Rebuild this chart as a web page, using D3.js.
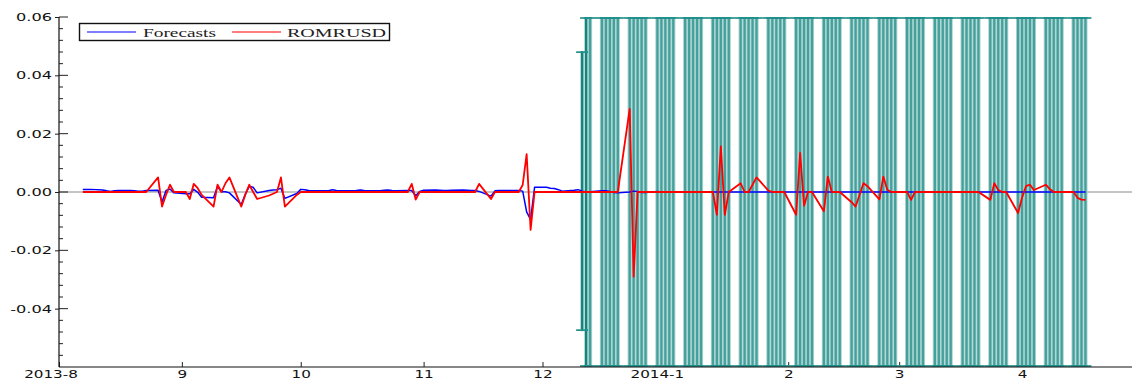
<!DOCTYPE html>
<html><head><meta charset="utf-8">
<script src="https://cdn.jsdelivr.net/npm/d3@7/dist/d3.min.js"></script>
<style>html,body{margin:0;padding:0;background:#fff;overflow:hidden}svg{display:block}</style>
</head><body>
<svg id="chart" width="1132" height="380"></svg>
<script>
// ---------- DATA ----------
const dates = [
"2013-08-07","2013-08-08","2013-08-09","2013-08-12","2013-08-13","2013-08-14","2013-08-15","2013-08-16","2013-08-19","2013-08-20","2013-08-21","2013-08-22","2013-08-23","2013-08-26","2013-08-27","2013-08-28","2013-08-29","2013-08-30",
"2013-09-02","2013-09-03","2013-09-04","2013-09-05","2013-09-06","2013-09-09","2013-09-10","2013-09-11","2013-09-12","2013-09-13","2013-09-16","2013-09-17","2013-09-18","2013-09-19","2013-09-20","2013-09-23","2013-09-24","2013-09-25","2013-09-26","2013-09-27","2013-09-30",
"2013-10-01","2013-10-02","2013-10-03","2013-10-04","2013-10-07","2013-10-08","2013-10-09","2013-10-10","2013-10-11","2013-10-14","2013-10-15","2013-10-16","2013-10-17","2013-10-18","2013-10-21","2013-10-22","2013-10-23","2013-10-24","2013-10-25","2013-10-28","2013-10-29","2013-10-30","2013-10-31",
"2013-11-01","2013-11-04","2013-11-05","2013-11-06","2013-11-07","2013-11-08","2013-11-11","2013-11-12","2013-11-13","2013-11-14","2013-11-15","2013-11-18","2013-11-19","2013-11-20","2013-11-21","2013-11-22","2013-11-25","2013-11-26","2013-11-27","2013-11-28","2013-11-29",
"2013-12-02","2013-12-03","2013-12-04","2013-12-05","2013-12-06","2013-12-09","2013-12-10","2013-12-11","2013-12-12","2013-12-13","2013-12-16","2013-12-17","2013-12-18","2013-12-19","2013-12-20","2013-12-23","2013-12-24","2013-12-25","2013-12-26","2013-12-27","2013-12-30","2013-12-31",
"2014-01-01","2014-01-02","2014-01-03","2014-01-06","2014-01-07","2014-01-08","2014-01-09","2014-01-10","2014-01-13","2014-01-14","2014-01-15","2014-01-16","2014-01-17","2014-01-20","2014-01-21","2014-01-22","2014-01-23","2014-01-24","2014-01-27","2014-01-28","2014-01-29","2014-01-30","2014-01-31",
"2014-02-03","2014-02-04","2014-02-05","2014-02-06","2014-02-07","2014-02-10","2014-02-11","2014-02-12","2014-02-13","2014-02-14","2014-02-17","2014-02-18","2014-02-19","2014-02-20","2014-02-21","2014-02-24","2014-02-25","2014-02-26","2014-02-27","2014-02-28",
"2014-03-03","2014-03-04","2014-03-05","2014-03-06","2014-03-07","2014-03-10","2014-03-11","2014-03-12","2014-03-13","2014-03-14","2014-03-17","2014-03-18","2014-03-19","2014-03-20","2014-03-21","2014-03-24","2014-03-25","2014-03-26","2014-03-27","2014-03-28","2014-03-31",
"2014-04-01","2014-04-02","2014-04-03","2014-04-04","2014-04-07","2014-04-08","2014-04-09","2014-04-10","2014-04-11","2014-04-14","2014-04-15","2014-04-16","2014-04-17"
];

// actual series (red)
const romrusd = [
0,0,0, 0,0,0,0,0, 0,0,0,0,0, 0.005,-0.005,-0.001,0.0025,0,
0,-0.0024,0.0028,0.0013,-0.001, -0.005,0.0025,0,0.003,0.005, -0.005,-0.001,0.0025,0,-0.0024, -0.0012,-0.0006,0,0.005,-0.005, -0.001,
0,0,0,0, 0,0,0,0,0, 0,0,0,0,0, 0,0,0,0,0, 0,0.0028,-0.0026,0,
0, 0,0,0,0,0, 0,0,0,0,0.0028, -0.0024,0,0,0,0, 0,0.0024,0.013,-0.013,0,
0,0,0,0,0, 0,0,0,0,0, 0,0,0,0,0, 0.0285,-0.029,0,0,0, 0,0,
0,0,0, 0,0,0,0,0, 0,-0.0078,0.0156,-0.0078,0, 0.003,0,0,0.0025,0.005, 0.0005,0,0,0,0,
-0.0078,0.0134,-0.0047,0,0, -0.0066,0.0053,0,0,0, -0.0035,-0.005,-0.001,0.003,0.002, -0.0025,0.0053,0.0008,0,0,
0,-0.0027,0,0,0, 0,0,0,0,0, 0,0,0,0,0, -0.0027,0.003,0.0007,0,0, -0.0072,
-0.002,0.002,0.0025,0.0007, 0.0025,0.001,0,0,0, 0,-0.002,-0.0026,-0.0027
];

// forecasts (blue)
const forecasts = [
0.0009,0.0009,0.0009, 0.0007,0.0004,0.0002,0.0004,0.0005, 0.0005,0.0004,0.0003,0.0003,0.0005, 0.0006,-0.0034,0.0005,0.001,-0.0003,
-0.0006,-0.0006,0.0009,-0.0001,-0.0018, -0.002,0.0019,0.0001,0.0001,-0.0003, -0.0043,-0.0008,0.0019,0.0016,-0.0003, 0.0005,0.0007,0.0008,0.0013,-0.0022, -0.0005,
0.0009,0.0008,0.0005,0.0004, 0.0004,0.0004,0.0008,0.0005,0.0004, 0.0004,0.0005,0.0007,0.0005,0.0004, 0.0004,0.0006,0.0007,0.0005,0.0004, 0.0005,0.0005,-0.0013,0.0002,
0.0006, 0.0007,0.0006,0.0005,0.0005,0.0006, 0.0007,0.0006,0.0005,0.0005,0.0002, -0.0014,0.0004,0.0005,0.0005,0.0005, 0.0005,0.0003,-0.0068,-0.0095,0.0016,
0.0016,0.0013,0.0012,0.0008,0.0003, 0.0006,0.0008,0.0003,0.0001,0.0001, 0.0004,0.0004,0.0002,-0.0002,-0.0003, 0,0.0003,0.0002,-0.0002,-0.0002, 0.0002,0,
0,0,0, 0,0,0,0,0, 0,0,0,0,0, 0,0,0,0,0, 0,0,0,0,0,
0,0,0,0,0, 0,0,0,0,0, 0,0,0,0,0, 0,0,0,0,0,
0,0,0,0,0, 0,0,0,0,0, 0,0,0,0,0, 0,0,0,0,0, 0,
0,0,0,0, 0,0,0,0,0, 0,0,0,0
];

// +/- 2 S.E. half-width of forecast band, from bandStart onwards
const bandStart = "2013-12-11";
const se2 = [
0.048,0.066,0.079, 0.090,0.099,0.108,0.116,0.123, 0.130,0.137,0.143,0.149,0.154, 0.160,0.165,
0.170,0.175,0.179, 0.184,0.188,0.192,0.197,0.201, 0.205,0.208,0.212,0.216,0.220, 0.223,0.227,0.230,0.233,0.237, 0.240,0.243,0.246,0.249,0.252,
0.255,0.258,0.261,0.264,0.267, 0.270,0.273,0.275,0.278,0.281, 0.283,0.286,0.289,0.291,0.294, 0.296,0.299,0.301,0.304,0.306,
0.308,0.311,0.313,0.315,0.318, 0.320,0.322,0.325,0.327,0.329, 0.331,0.333,0.336,0.338,0.340, 0.342,0.344,0.346,0.348,0.350, 0.352,
0.354,0.356,0.358,0.360, 0.362,0.364,0.366,0.368,0.370, 0.372,0.374,0.376,0.378
];

const yTicks = [0.06, 0.04, 0.02, 0.00, -0.02, -0.04];
const yTickLabels = ["0.06", "0.04", "0.02", "0.00", "-0.02", "-0.04"];
const xTickDates = ["2013-08-01","2013-09-01","2013-10-01","2013-11-01","2013-12-01","2014-01-01","2014-02-01","2014-03-01","2014-04-01"];
const xTickLabels = ["2013-8","9","10","11","12","2014-1","2","3","4"];
const seriesNames = ["Forecasts", "ROMRUSD"];

// ---------- CHART ----------
const parse = d3.utcParse("%Y-%m-%d");
const svg = d3.select("#chart");
const X0 = 59, X1 = 1132, YT = 17, YB = 367;

const x = d3.scaleUtc().domain([parse("2013-08-01"), parse("2014-04-29")]).range([X0, 1133]);
const y = d3.scaleLinear().domain([-0.06, 0.06]).range([YB, YT]);
const yc = y.copy().clamp(true);

const rows = dates.map((d, i) => ({ date: parse(d), act: romrusd[i], fc: forecasts[i] }));
const i0 = dates.indexOf(bandStart);
const band = se2.slice(0, rows.length - i0).map((s, k) => {
  const r = rows[i0 + k];
  return { date: r.date, hi: r.fc + s, lo: r.fc - s, k: k };
});

function stretch(sel, f) {
  sel.each(function () {
    const w = this.getComputedTextLength();
    d3.select(this).attr("textLength", w * f).attr("lengthAdjust", "spacingAndGlyphs");
  });
}

// zero line
svg.append("line").attr("x1", X0).attr("x2", X1).attr("y1", y(0)).attr("y2", y(0))
  .attr("stroke", "#8a8a8a").attr("stroke-width", 1);

// x axis (ticks under the band)
const xAxis = d3.axisBottom(x)
  .tickValues(xTickDates.map(parse))
  .tickFormat((d, i) => xTickLabels[i])
  .tickSizeInner(-5).tickSizeOuter(0).tickPadding(3.5);
const gx = svg.append("g").attr("transform", `translate(0,${YB})`).call(xAxis);
gx.select(".domain").remove();
gx.selectAll(".tick line").attr("stroke", "#222");
gx.selectAll(".tick text")
  .attr("font-family", "'DejaVu Sans', Verdana, sans-serif").attr("font-size", 11).attr("fill", "#111")
  .attr("x", (d, i) => xTickLabels[i].includes("-") ? -8.5 : 0)
  .call(stretch, 1.38);

// band: light fill, dark stripe, caps
const gb = svg.append("g");
gb.selectAll("rect.light").data(band.filter(d => d.k > 1)).join("rect")
  .attr("class", "light")
  .attr("x", d => x(d.date) - 2.1).attr("width", 4.2)
  .attr("y", d => yc(d.hi)).attr("height", d => yc(d.lo) - yc(d.hi))
  .attr("fill", "#abd5d2");
gb.selectAll("rect.dark").data(band).join("rect")
  .attr("class", "dark")
  .attr("x", d => x(d.date) - (d.k < 2 ? 1.4 : 1.15)).attr("width", d => d.k < 2 ? 2.8 : 2.3)
  .attr("y", d => yc(d.hi)).attr("height", d => yc(d.lo) - yc(d.hi))
  .attr("fill", d => d.k < 2 ? "#15847f" : "#45a09c");
["hi", "lo"].forEach(key => {
  gb.selectAll("line.cap" + key).data(band).join("line")
    .attr("class", "cap" + key)
    .attr("x1", d => x(d.date) - 6).attr("x2", d => x(d.date) + 6)
    .attr("y1", d => yc(d[key]) + (key === "hi" ? 1 : -1)).attr("y2", d => yc(d[key]) + (key === "hi" ? 1 : -1))
    .attr("stroke", "#23908b").attr("stroke-width", 1.7);
});

// lines
const lineF = d3.line().x(d => x(d.date)).y(d => y(d.fc));
const lineA = d3.line().x(d => x(d.date)).y(d => y(d.act));
svg.append("path").datum(rows).attr("d", lineF)
  .attr("fill", "none").attr("stroke", "#0000ff").attr("stroke-width", 1.5).attr("stroke-linejoin", "round");
svg.append("path").datum(rows).attr("d", lineA)
  .attr("fill", "none").attr("stroke", "#ff0000").attr("stroke-width", 1.8).attr("stroke-linejoin", "round");

// y axis
const yAxis = d3.axisLeft(y).tickValues(yTicks).tickFormat((d, i) => yTickLabels[i])
  .tickSizeInner(4).tickSizeOuter(0).tickPadding(3);
const gy = svg.append("g").attr("transform", `translate(${X0},0)`).call(yAxis);
gy.select(".domain").remove();
gy.selectAll(".tick line").attr("stroke", "#222");
gy.selectAll(".tick text")
  .attr("font-family", "'DejaVu Sans', Verdana, sans-serif").attr("font-size", 11).attr("fill", "#111")
  .call(stretch, 1.47);
gy.selectAll("line.inmaj").data(yTicks).join("line").attr("class", "inmaj")
  .attr("x1", 0).attr("x2", 9).attr("y1", d => y(d)).attr("y2", d => y(d)).attr("stroke", "#222");
const minor = d3.range(-15, 16).map(k => k * 0.004).filter(v => Math.abs(Math.round(v * 1000) % 20) !== 0);
gy.selectAll("line.inmin").data(minor).join("line").attr("class", "inmin")
  .attr("x1", 0).attr("x2", 4).attr("y1", d => y(d)).attr("y2", d => y(d)).attr("stroke", "#222");

// axis lines
svg.append("line").attr("x1", X0).attr("x2", X0).attr("y1", YT).attr("y2", YB).attr("stroke", "#111").attr("stroke-width", 1.2);
svg.append("line").attr("x1", X0).attr("x2", X1).attr("y1", YB).attr("y2", YB).attr("stroke", "#111").attr("stroke-width", 1.2);

// legend
const lg = svg.append("g");
lg.append("rect").attr("x", 79.5).attr("y", 23.5).attr("width", 310).attr("height", 17)
  .attr("fill", "#fff").attr("stroke", "#111").attr("stroke-width", 1.4);
const legendItems = [
  { name: seriesNames[0], color: "#0000ff", lx: 87, tx: 143, tw: 73 },
  { name: seriesNames[1], color: "#ff0000", lx: 232, tx: 287, tw: 99 }
];
legendItems.forEach(it => {
  lg.append("line").attr("x1", it.lx).attr("x2", it.lx + 49).attr("y1", 32).attr("y2", 32)
    .attr("stroke", it.color).attr("stroke-width", 1.2);
  lg.append("text").attr("x", it.tx).attr("y", 36.5).text(it.name)
    .attr("font-family", "'Liberation Serif', 'Times New Roman', serif").attr("font-size", 13).attr("fill", "#222")
    .attr("textLength", it.tw).attr("lengthAdjust", "spacingAndGlyphs");
});
</script>
</body></html>
